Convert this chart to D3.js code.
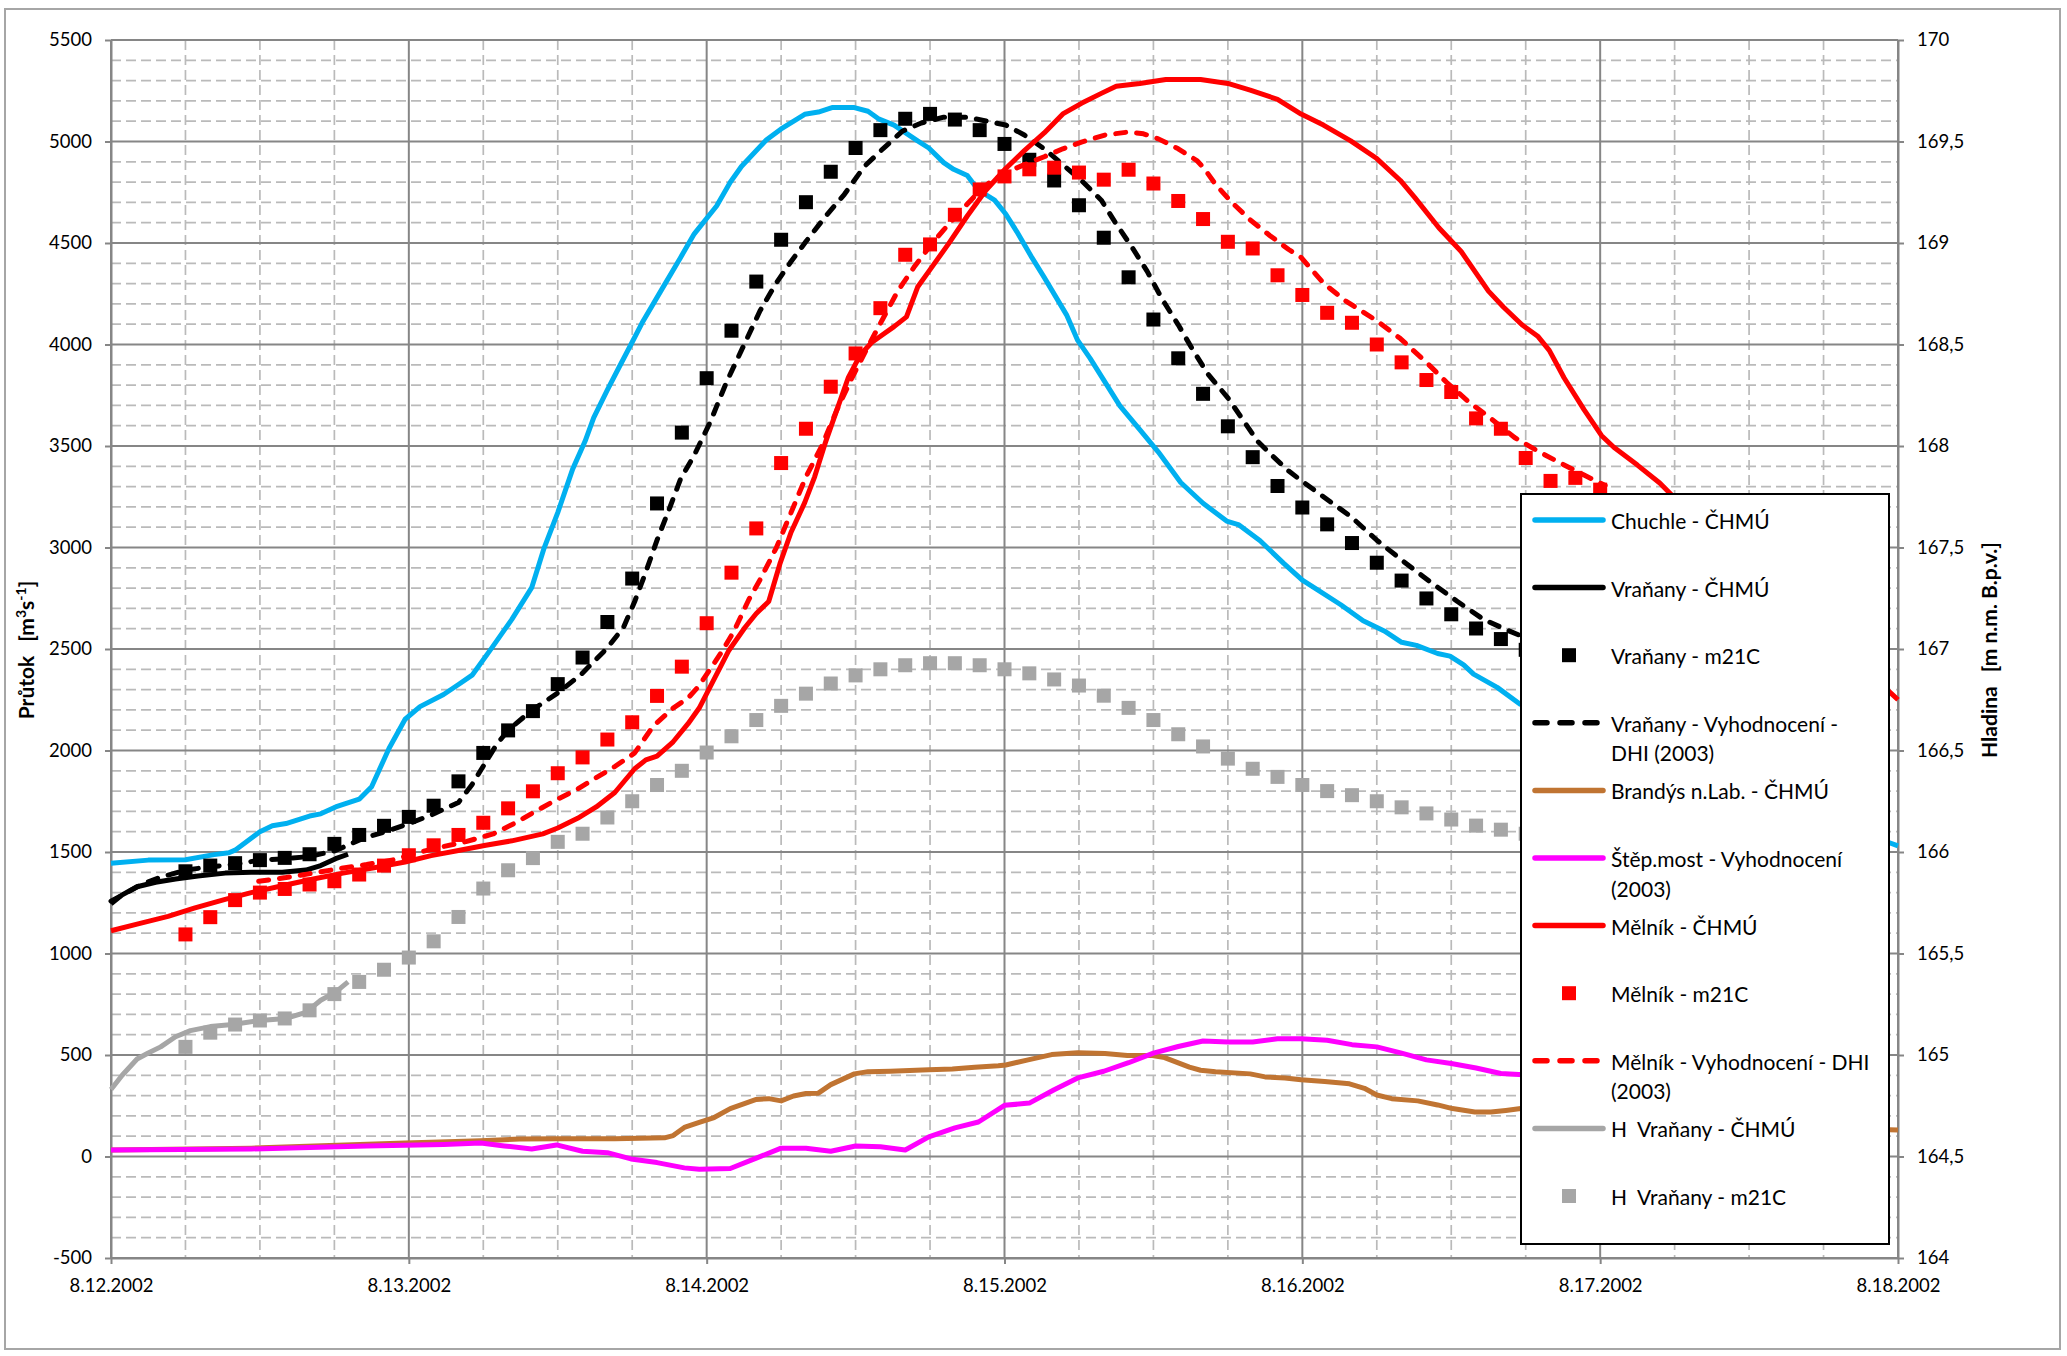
<!DOCTYPE html>
<html>
<head>
<meta charset="utf-8">
<script src="https://cdn.jsdelivr.net/npm/d3@7"></script>
<style>
  body { margin: 0; background: #fff; }
  svg { display: block; font-family: Lato, "Open Sans", sans-serif; }
  text { white-space: pre; }
</style>
</head>
<body>
<svg id="chart" width="2067" height="1356"></svg>
<script>
// Values: [hours since 8.12.2002 00:00, value]
// flows in m3/s on the left axis, water levels in m n.m. on the right axis

const chuchle = [[0,1445],[3,1460],[6,1462],[8.3,1487],[9.5,1496],[10,1509],[12,1600],[13,1629],[14.1,1640],[16,1677],[16.9,1688],[18.1,1722],[20,1760],[21,1821],[22.4,2010],[23.7,2154],[24.9,2216],[26.8,2276],[28,2325],[29.1,2371],[30.6,2498],[32.3,2646],[33.9,2802],[34.9,2997],[36,3172],[37.2,3386],[38.2,3523],[38.9,3640],[40,3776],[40.9,3883],[41.9,4000],[42.8,4107],[44.3,4263],[45.9,4429],[47,4545],[48.8,4682],[49.9,4799],[50.8,4877],[52.8,5007],[54,5062],[55.9,5134],[57,5145],[58.1,5167],[59.9,5167],[61,5149],[61.9,5110],[63.1,5081],[65,5003],[65.9,4968],[67.1,4896],[67.9,4863],[69,4832],[69.9,4760],[71.2,4711],[72.1,4643],[73,4555],[74.2,4429],[75.2,4331],[77,4146],[77.9,4020],[78.9,3932],[80.1,3815],[81.3,3698],[82.9,3581],[84.4,3470],[86.2,3320],[88,3218],[89.9,3130],[90.9,3111],[92.6,3033],[94.5,2922],[96,2839],[97.2,2793],[99.1,2718],[100.9,2639],[102.6,2589],[104,2533],[105.2,2518],[106.9,2478],[107.9,2465],[109,2422],[109.8,2376],[111.7,2311],[113.5,2230],[143.2,1548],[144,1530]];

const vranChmu = [[0,1245],[0.9,1289],[2.1,1329],[3.6,1351],[5.2,1367],[7,1382],[9.2,1396],[11.3,1400],[13.8,1400],[15.7,1411],[16.9,1433],[18.1,1467],[19.1,1489]];

const vranDhi = [[0,1258],[2.4,1338],[3.9,1374],[6,1411],[8,1427],[9.8,1438],[12,1460],[14.1,1467],[16,1478],[18.1,1507],[20.3,1567],[22.1,1600],[24,1640],[25.8,1682],[28,1744],[29.1,1833],[30.2,1943],[31.1,2032],[32,2099],[33.9,2198],[36,2283],[37.9,2376],[39.7,2487],[40.3,2529],[41.3,2607],[42.2,2734],[43.1,2880],[44,3036],[45,3192],[45.9,3338],[47,3455],[48.3,3620],[49.6,3815],[50.8,3971],[52.3,4166],[53.6,4302],[54.8,4409],[56,4507],[57.6,4633],[59.1,4740],[60.7,4877],[62.2,4964],[63.8,5052],[65.3,5091],[67.1,5120],[69,5120],[70.5,5101],[72.1,5081],[73.6,5032],[75.2,4964],[76.7,4886],[78.2,4808],[79.8,4711],[81,4594],[82.3,4477],[83.5,4360],[84.7,4224],[86,4097],[87.2,3971],[88.4,3854],[90,3737],[91.2,3630],[92.4,3523],[93.7,3445],[94.9,3377],[95.9,3330],[97.7,3250],[99.9,3153],[102,3036],[104.2,2929],[106.3,2831],[108.5,2734],[110.6,2646],[112.7,2588],[113.5,2568]];

const melChmu = [[0,1112],[2.1,1145],[4.6,1183],[6.7,1223],[9.2,1267],[11.3,1300],[13.8,1334],[16.3,1367],[18.7,1396],[21.2,1422],[23.7,1451],[25.8,1482],[28,1507],[30.2,1533],[32.3,1555],[34.8,1589],[36,1618],[37.6,1666],[39.1,1722],[40.6,1793],[42.2,1910],[43.1,1954],[44,1972],[45.3,2043],[46.5,2132],[47.4,2209],[49.8,2494],[51.1,2607],[52,2675],[53,2734],[53.9,2919],[54.8,3075],[55.9,3221],[56.7,3348],[57.6,3523],[58.5,3679],[59.4,3835],[60.4,3951],[61.3,4010],[62.2,4049],[63.1,4088],[64.1,4136],[65,4283],[65.9,4360],[67.5,4497],[69,4633],[70.5,4760],[72.1,4867],[73.6,4955],[75.2,5042],[76.7,5136],[78.2,5188],[79.8,5237],[81,5272],[82.9,5286],[85,5305],[87.8,5305],[90,5286],[91.8,5253],[94,5208],[95.9,5135],[97.7,5081],[99.9,5003],[102,4916],[103.9,4808],[105.1,4721],[107,4575],[108.8,4458],[111,4263],[112.2,4185],[113.7,4097],[115,4039],[115.9,3971],[117.1,3835],[118.7,3679],[120.1,3552],[121.1,3494],[123,3406],[124.8,3318],[126.2,3231],[143.6,2273],[144,2250]];

const melDhi = [[11.9,1356],[14.1,1374],[16.3,1396],[18.4,1418],[20.6,1438],[22.8,1462],[24.9,1500],[26.8,1527],[28.6,1551],[30.8,1589],[32.6,1644],[34.2,1700],[35.7,1751],[37.6,1810],[39.1,1866],[40.6,1921],[42.2,1988],[43.7,2121],[45.3,2209],[46.5,2258],[47.4,2320],[49.3,2494],[50.2,2588],[51.4,2744],[52.3,2841],[53.6,2997],[54.8,3172],[56,3348],[57.3,3503],[58.5,3679],[59.7,3835],[61,3990],[62.2,4127],[63.4,4263],[64.7,4380],[65.9,4477],[67.1,4565],[68.4,4653],[69.6,4731],[70.8,4799],[72.1,4847],[73.6,4886],[75.2,4925],[76.7,4964],[78.2,4997],[80.1,5032],[81.9,5046],[83.2,5038],[84.4,5013],[86,4964],[87.5,4906],[88.1,4867],[89,4789],[90.3,4701],[91.8,4614],[93.4,4536],[94.9,4468],[95.9,4429],[97.7,4302],[99.5,4214],[102,4117],[103.9,4029],[106,3912],[107.6,3815],[109.4,3718],[111.3,3630],[113.1,3542],[115,3474],[116.8,3416],[118.7,3357],[120.4,3305]];

const brandys = [[0,32],[11.3,41],[23.7,66],[29.8,77],[32.9,86],[36,88],[40.6,88],[44.6,92],[45.3,103],[46.2,143],[47.4,168],[48.6,192],[49.9,236],[52,281],[53,285],[54,274],[55,298],[56,310],[57,312],[58,354],[59.9,407],[61,418],[62.8,420],[65.9,427],[67.8,431],[69.6,440],[71.5,447],[72.1,451],[73.9,476],[75.8,502],[77.9,511],[80.1,507],[81.9,498],[83.8,498],[84.9,487],[86.9,440],[87.8,425],[89,418],[91.8,407],[93,392],[94.6,387],[95.9,378],[97.8,369],[99.8,358],[101,336],[102,303],[103.2,285],[105.3,274],[106.9,254],[108.1,236],[109.9,219],[111.2,219],[112.4,227],[113.6,236],[143.3,132],[144,130]];

const stepMost = [[0,32],[11.3,37],[20.6,52],[26.8,59],[29.8,66],[31.7,52],[33.9,37],[35.9,57],[38,26],[40,19],[41.9,-12],[44,-30],[46.2,-56],[47.4,-63],[49.9,-59],[52,-8],[54,41],[56,41],[58,26],[60,52],[62,48],[64,32],[65.9,97],[68,141],[69.9,170],[72,252],[74,263],[76,329],[77.9,387],[80,420],[82,462],[84,509],[86,542],[88,569],[90,564],[92,564],[94,580],[95.9,580],[98,573],[100,551],[102,540],[104,509],[106,476],[108,458],[110,436],[112,409],[113.8,403]];

// H Vraňany - ČHMÚ, water level (right axis)
const hVranChmu = [[0,164.83],[0.9,164.90],[2.1,164.98],[3,165.01],[4,165.04],[5.2,165.09],[6.4,165.12],[8,165.14],[9.8,165.15],[12,165.17],[14.1,165.18],[15.7,165.21],[16.9,165.27],[18.1,165.31],[19.1,165.36]];

// model output (m21C), one value every 2 hours
const m21cHours = [6,8,10,12,14,16,18,20,22,24,26,28,30,32,34,36,38,40,42,44,46,48,50,52,54,56,58,60,62,64,66,68,70,72,74,76,78,80,82,84,86,88,90,92,94,96,98,100,102,104,106,108,110,112,114,116,118,120];

const vranM21c = [1405,1433,1445,1460,1471,1489,1540,1584,1629,1673,1728,1848,1988,2099,2194,2327,2458,2633,2847,3217,3566,3834,4068,4310,4516,4701,4851,4968,5056,5112,5136,5108,5056,4988,4910,4808,4686,4526,4331,4123,3932,3757,3597,3445,3303,3197,3114,3022,2925,2837,2749,2671,2601,2549,2496];

const melM21c = [1094,1179,1263,1300,1318,1340,1356,1389,1433,1484,1533,1584,1644,1715,1799,1888,1966,2054,2139,2269,2413,2627,2876,3094,3416,3585,3792,3956,4179,4442,4493,4639,4764,4828,4863,4871,4847,4812,4861,4793,4707,4618,4506,4473,4341,4244,4156,4107,4000,3912,3825,3766,3636,3585,3441,3328,3343,3285];

const hVranM21c = [165.04,165.11,165.15,165.17,165.18,165.22,165.30,165.36,165.42,165.48,165.56,165.68,165.82,165.91,165.97,166.05,166.09,166.17,166.25,166.33,166.40,166.49,166.57,166.65,166.72,166.78,166.83,166.87,166.90,166.92,166.93,166.93,166.92,166.90,166.88,166.85,166.82,166.77,166.71,166.65,166.58,166.52,166.46,166.41,166.37,166.33,166.30,166.28,166.25,166.22,166.19,166.16,166.13,166.11,166.09];

const flowTicks = [-500,0,500,1000,1500,2000,2500,3000,3500,4000,4500,5000,5500];
const levelTicks = [164,164.5,165,165.5,166,166.5,167,167.5,168,168.5,169,169.5,170];

const legendItems = [
  { lines: ["Chuchle - ČHMÚ"], color: "#00B0F0", kind: "line" },
  { lines: ["Vraňany - ČHMÚ"], color: "#000000", kind: "line" },
  { lines: ["Vraňany - m21C"], color: "#000000", kind: "square" },
  { lines: ["Vraňany - Vyhodnocení -", "DHI (2003)"], color: "#000000", kind: "dash" },
  { lines: ["Brandýs n.Lab. - ČHMÚ"], color: "#C07432", kind: "line" },
  { lines: ["Štěp.most - Vyhodnocení", "(2003)"], color: "#FF00FF", kind: "line" },
  { lines: ["Mělník - ČHMÚ"], color: "#FF0000", kind: "line" },
  { lines: ["Mělník - m21C"], color: "#FF0000", kind: "square" },
  { lines: ["Mělník - Vyhodnocení - DHI", "(2003)"], color: "#FF0000", kind: "dash" },
  { lines: ["H  Vraňany - ČHMÚ"], color: "#A6A6A6", kind: "line" },
  { lines: ["H  Vraňany - m21C"], color: "#A6A6A6", kind: "square" }
];

const plotLeft = 111, plotRight = 1898, plotTop = 40, plotBottom = 1258;
const t0 = new Date(2002, 7, 12);
const toDate = h => new Date(t0.getTime() + h * 3600e3);

const svg = d3.select("#chart");

// outer chart frame
svg.append("rect")
  .attr("x", 5).attr("y", 9).attr("width", 2055).attr("height", 1340)
  .attr("fill", "#fff").attr("stroke", "#a6a6a6").attr("stroke-width", 2);

const x = d3.scaleTime().domain([t0, toDate(144)]).range([plotLeft, plotRight]);
const yL = d3.scaleLinear().domain([-500, 5500]).range([plotBottom, plotTop]);
const yR = d3.scaleLinear().domain([164, 170]).range([plotBottom, plotTop]);

const gridMinor = "#bababa", gridMajor = "#868686";

// minor grid (dashed)
const grid = svg.append("g");
grid.selectAll(".hmin")
  .data(d3.range(-500, 5501, 100).filter(v => v % 500 !== 0))
  .enter().append("line")
  .attr("x1", plotLeft).attr("x2", plotRight)
  .attr("y1", d => yL(d)).attr("y2", d => yL(d))
  .attr("stroke", gridMinor).attr("stroke-width", 1.7).attr("stroke-dasharray", "10,5");

grid.selectAll(".vmin")
  .data(d3.timeHour.every(6).range(t0, toDate(144)).filter(d => d.getHours() !== 0))
  .enter().append("line")
  .attr("y1", plotTop).attr("y2", plotBottom)
  .attr("x1", d => x(d)).attr("x2", d => x(d))
  .attr("stroke", gridMinor).attr("stroke-width", 1.7).attr("stroke-dasharray", "10,5");

// major grid
const days = d3.timeDay.range(t0, toDate(145));
grid.selectAll(".hmaj")
  .data(flowTicks)
  .enter().append("line")
  .attr("x1", plotLeft).attr("x2", plotRight)
  .attr("y1", d => yL(d)).attr("y2", d => yL(d))
  .attr("stroke", gridMajor).attr("stroke-width", 2);

grid.selectAll(".vmaj")
  .data(days)
  .enter().append("line")
  .attr("y1", plotTop).attr("y2", plotBottom)
  .attr("x1", d => x(d)).attr("x2", d => x(d))
  .attr("stroke", gridMajor).attr("stroke-width", 2);

// axes
function styleAxis(g) {
  g.attr("color", "#000").attr("font-family", "Lato, 'Open Sans', sans-serif").attr("font-size", 18.5);
  g.selectAll("path.domain").attr("stroke", gridMajor).attr("stroke-width", 2);
  g.selectAll(".tick line").attr("stroke", gridMajor).attr("stroke-width", 2);
}

svg.append("g").attr("transform", `translate(${plotLeft},0)`)
  .call(d3.axisLeft(yL).tickValues(flowTicks).tickSize(6).tickSizeOuter(0).tickPadding(13).tickFormat(d => String(d)))
  .call(styleAxis);

svg.append("g").attr("transform", `translate(${plotRight},0)`)
  .call(d3.axisRight(yR).tickValues(levelTicks).tickSize(6).tickSizeOuter(0).tickPadding(13).tickFormat(d => String(d).replace(".", ",")))
  .call(styleAxis);

svg.append("g").attr("transform", `translate(0,${plotBottom})`)
  .call(d3.axisBottom(x).tickValues(days).tickSize(6).tickSizeOuter(0).tickPadding(15).tickFormat(d3.timeFormat("%-m.%-d.%Y")))
  .call(styleAxis);

// axis titles
const titleL = svg.append("text")
  .attr("transform", "translate(34,650) rotate(-90)")
  .attr("text-anchor", "middle").attr("font-weight", "bold").attr("font-size", 21);
titleL.append("tspan").text("Průtok");
titleL.append("tspan").attr("dx", 14).text("[m");
titleL.append("tspan").attr("dy", -8).attr("font-size", 14).text("3");
titleL.append("tspan").attr("dy", 8).text("s");
titleL.append("tspan").attr("dy", -8).attr("font-size", 14).text("-1");
titleL.append("tspan").attr("dy", 8).text("]");

const titleR = svg.append("text")
  .attr("transform", "translate(1997,650) rotate(-90)")
  .attr("text-anchor", "middle").attr("font-weight", "bold").attr("font-size", 21);
titleR.append("tspan").text("Hladina");
titleR.append("tspan").attr("dx", 14).text("[m n.m. B.p.v.]");

// series
const lineL = d3.line().x(d => x(toDate(d[0]))).y(d => yL(d[1]));
const lineR = d3.line().x(d => x(toDate(d[0]))).y(d => yR(d[1]));
const plot = svg.append("g");

function drawLine(data, gen, color, dashed) {
  plot.append("path")
    .datum(data)
    .attr("d", gen)
    .attr("fill", "none")
    .attr("stroke", color)
    .attr("stroke-width", 5)
    .attr("stroke-linejoin", "round")
    .attr("stroke-linecap", dashed ? "round" : "butt")
    .attr("stroke-dasharray", dashed ? "10,11" : null);
}

function drawSquares(values, yScale, color) {
  plot.append("g").selectAll("rect")
    .data(values)
    .enter().append("rect")
    .attr("x", (d, i) => x(toDate(m21cHours[i])) - 7)
    .attr("y", d => yScale(d) - 7)
    .attr("width", 14).attr("height", 14)
    .attr("fill", color);
}

drawLine(chuchle, lineL, "#00B0F0", false);
drawLine(vranChmu, lineL, "#000000", false);
drawSquares(vranM21c, yL, "#000000");
drawLine(vranDhi, lineL, "#000000", true);
drawLine(brandys, lineL, "#C07432", false);
drawLine(stepMost, lineL, "#FF00FF", false);
drawLine(melChmu, lineL, "#FF0000", false);
drawSquares(melM21c, yL, "#FF0000");
drawLine(melDhi, lineL, "#FF0000", true);
drawLine(hVranChmu, lineR, "#A6A6A6", false);
drawSquares(hVranM21c, yR, "#A6A6A6");

// legend box over the plot
const legend = svg.append("g");
legend.append("rect")
  .attr("x", 1521).attr("y", 494).attr("width", 368).attr("height", 750)
  .attr("fill", "#fff").attr("stroke", "#000").attr("stroke-width", 2);

const item = legend.selectAll(".item")
  .data(legendItems)
  .enter().append("g")
  .attr("transform", (d, i) => `translate(0,${520 + i * 67.6})`);

item.filter(d => d.kind !== "square").append("line")
  .attr("x1", 1535).attr("x2", 1603).attr("y1", 0).attr("y2", 0)
  .attr("stroke", d => d.color).attr("stroke-width", 5.5)
  .attr("stroke-linecap", "round")
  .attr("stroke-dasharray", d => d.kind === "dash" ? "12,13" : null);

item.filter(d => d.kind === "square").append("rect")
  .attr("x", 1562).attr("y", -7).attr("width", 14).attr("height", 14)
  .attr("fill", d => d.color);

item.each(function(d) {
  const txt = d3.select(this).append("text")
    .attr("x", 1611).attr("y", 0)
    .attr("font-size", 21).attr("fill", "#000")
    .attr("dominant-baseline", "central");
  d.lines.forEach((l, k) => {
    txt.append("tspan").attr("x", 1611).attr("dy", k === 0 ? 0 : 29.5).text(l);
  });
});
</script>
</body>
</html>
